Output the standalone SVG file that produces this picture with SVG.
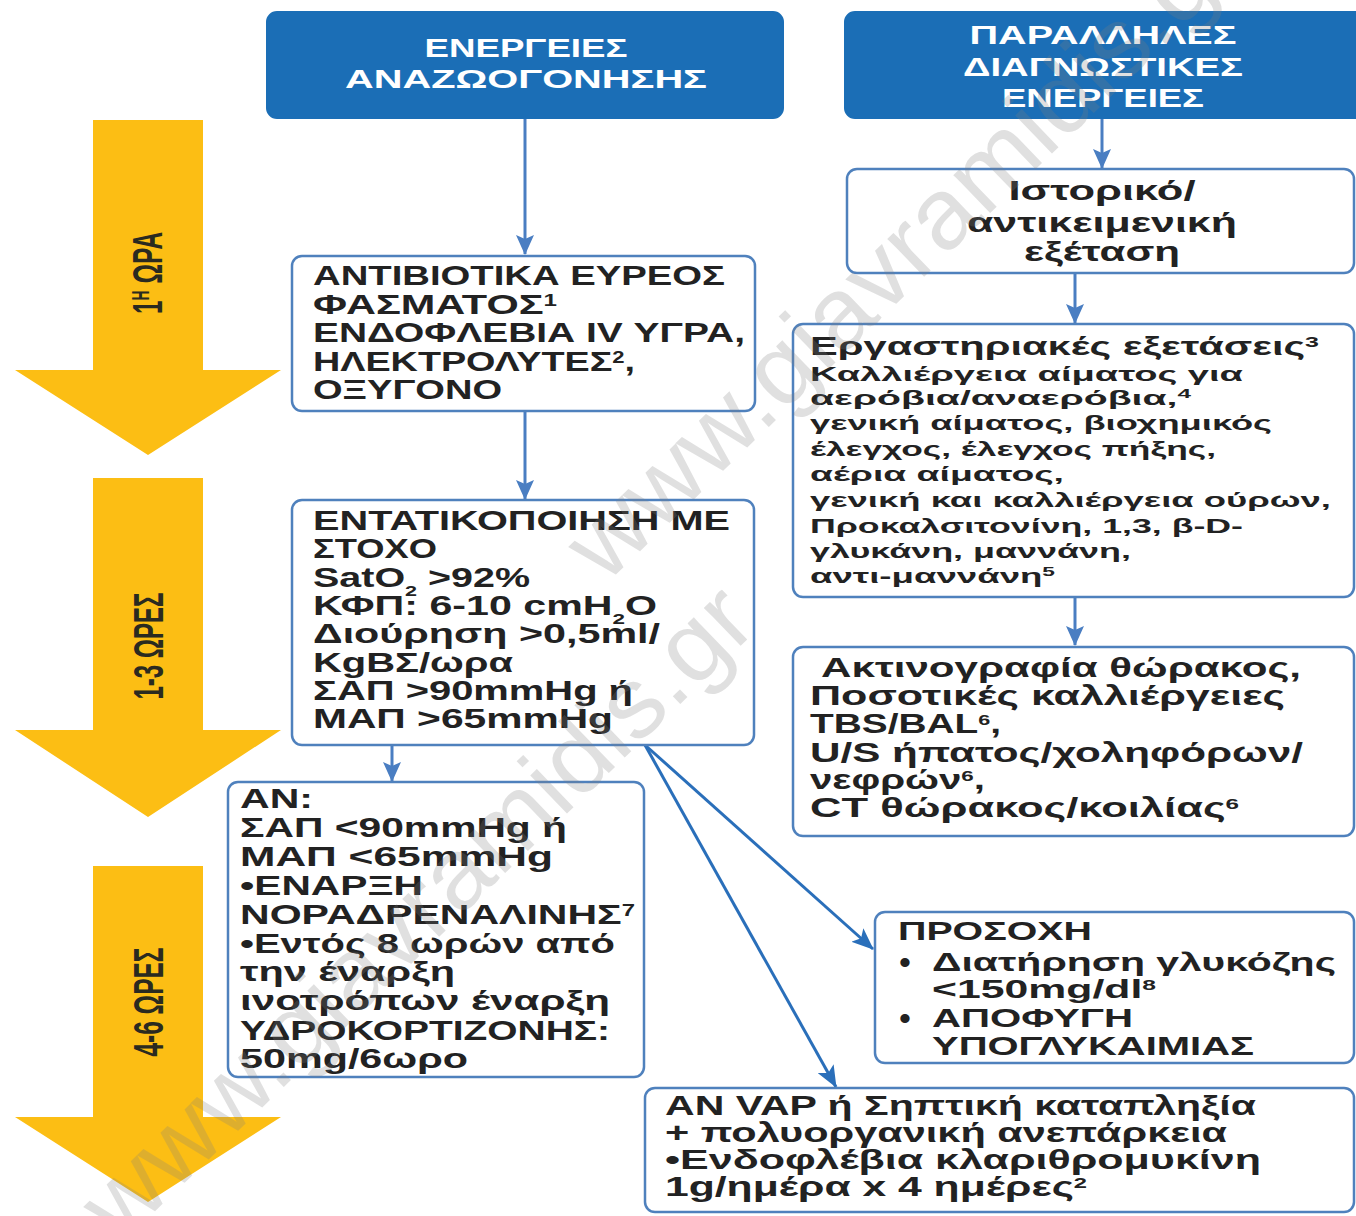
<svg xmlns="http://www.w3.org/2000/svg" width="1356" height="1216" viewBox="0 0 1356 1216">
<style>
.bg{fill:#fff}
.yarrow{fill:#FCBE14}
.ylab{font-family:"Liberation Sans",sans-serif;font-weight:bold;font-size:42px;fill:#2a2a20}
.hdr{fill:#1B6EB6;stroke:#1B6EB6;stroke-width:2}
.ht{font-family:"Liberation Sans",sans-serif;font-weight:bold;font-size:25px;fill:#fff}
.box{fill:#fff;stroke:#4F81BD;stroke-width:2.5}
.t{font-family:"Liberation Sans",sans-serif;font-weight:bold;fill:#222}
.f28{font-size:27.5px}
.f27{font-size:27px}
.f26{font-size:26px}
.f25{font-size:25px}
.f21{font-size:21px}
.bul{font-family:"Liberation Sans",sans-serif;font-size:34px;fill:#222}
.conn{stroke:#4A7EC2;stroke-width:3;fill:none}
.diag{stroke:#2A6FBA;stroke-width:3;fill:none}
.wm{font-family:"Liberation Sans",sans-serif;font-size:100px;fill:#808080;opacity:0.24}
</style>
<defs>
<marker id="ah" markerUnits="userSpaceOnUse" markerWidth="20" markerHeight="18" viewBox="0 0 20 18" refX="19" refY="9" orient="auto">
<path d="M0,0 L20,9 L0,18 L4,9 z" fill="#4A7EC2"/>
</marker>
<marker id="ah2" markerUnits="userSpaceOnUse" markerWidth="22" markerHeight="18" viewBox="0 0 22 18" refX="21" refY="9" orient="auto">
<path d="M0,0 L22,9 L0,18 L5,9 z" fill="#2A6FBA"/>
</marker>
</defs>
<rect class="bg" x="0" y="0" width="1356" height="1216"/>

<g id="timeline">
<g id="t1">
<polygon class="yarrow" points="93,120 203,120 203,370 281,370 148,455 15,370 93,370"/>
<text class="ylab" transform="translate(162,273) rotate(-90)" text-anchor="middle" textLength="82" lengthAdjust="spacingAndGlyphs">1<tspan font-size="24" baseline-shift="super">Η</tspan> ΩΡΑ</text>
</g>
<g id="t2">
<polygon class="yarrow" points="93,478 203,478 203,730 281,730 148,817 15,730 93,730"/>
<text class="ylab" transform="translate(163,646) rotate(-90)" text-anchor="middle" textLength="107" lengthAdjust="spacingAndGlyphs">1-3 ΩΡΕΣ</text>
</g>
<g id="t3">
<polygon class="yarrow" points="93,866 203,866 203,1117 281,1117 148,1202 15,1117 93,1117"/>
<text class="ylab" transform="translate(163,1002) rotate(-90)" text-anchor="middle" textLength="109" lengthAdjust="spacingAndGlyphs">4-6 ΩΡΕΣ</text>
</g>
</g>

<g id="connectors">
<line class="conn" x1="525" y1="118" x2="525" y2="254" marker-end="url(#ah)"/>
<line class="conn" x1="525" y1="411" x2="525" y2="499" marker-end="url(#ah)"/>
<line class="conn" x1="392" y1="745" x2="392" y2="781" marker-end="url(#ah)"/>
<line class="conn" x1="1102" y1="118" x2="1102" y2="168" marker-end="url(#ah)"/>
<line class="conn" x1="1075" y1="273" x2="1075" y2="323" marker-end="url(#ah)"/>
<line class="conn" x1="1075" y1="597" x2="1075" y2="645" marker-end="url(#ah)"/>
<line class="diag" x1="645" y1="745" x2="873" y2="949" marker-end="url(#ah2)"/>
<line class="diag" x1="645" y1="745" x2="836" y2="1087" marker-end="url(#ah2)"/>
</g>

<g id="hdr1">
<rect class="hdr" x="267" y="12" width="516" height="106" rx="10"/>
<text class="ht" x="526" y="57" text-anchor="middle" textLength="203" lengthAdjust="spacingAndGlyphs">ΕΝΕΡΓΕΙΕΣ</text>
<text class="ht" x="526" y="88" text-anchor="middle" textLength="362" lengthAdjust="spacingAndGlyphs">ΑΝΑΖΩΟΓΟΝΗΣΗΣ</text>
</g>

<g id="hdr2">
<rect class="hdr" x="845" y="12" width="520" height="106" rx="10"/>
<text class="ht" x="1103" y="44" text-anchor="middle" textLength="267" lengthAdjust="spacingAndGlyphs">ΠΑΡΑΛΛΗΛΕΣ</text>
<text class="ht" x="1103" y="76" text-anchor="middle" textLength="280" lengthAdjust="spacingAndGlyphs">ΔΙΑΓΝΩΣΤΙΚΕΣ</text>
<text class="ht" x="1103" y="107" text-anchor="middle" textLength="202" lengthAdjust="spacingAndGlyphs">ΕΝΕΡΓΕΙΕΣ</text>
</g>

<g id="antibiotics">
<rect class="box" x="292" y="256" width="463" height="155" rx="10"/>
<text class="t f28" x="313" y="285" textLength="412" lengthAdjust="spacingAndGlyphs">ΑΝΤΙΒΙΟΤΙΚΑ ΕΥΡΕΟΣ</text>
<text class="t f28" x="313" y="314" textLength="244" lengthAdjust="spacingAndGlyphs">ΦΑΣΜΑΤΟΣ<tspan font-size="16" baseline-shift="super">1</tspan></text>
<text class="t f28" x="313" y="342" textLength="432" lengthAdjust="spacingAndGlyphs">ΕΝΔΟΦΛΕΒΙΑ IV ΥΓΡΑ,</text>
<text class="t f28" x="313" y="371" textLength="322" lengthAdjust="spacingAndGlyphs">ΗΛΕΚΤΡΟΛΥΤΕΣ<tspan font-size="16" baseline-shift="super">2</tspan>,</text>
<text class="t f28" x="313" y="399" textLength="189" lengthAdjust="spacingAndGlyphs">ΟΞΥΓΟΝΟ</text>
</g>

<g id="intensify">
<rect class="box" x="292" y="500" width="462" height="245" rx="10"/>
<text class="t f28" x="313" y="530" textLength="417" lengthAdjust="spacingAndGlyphs">ΕΝΤΑΤΙΚΟΠΟΙΗΣΗ ΜΕ</text>
<text class="t f28" x="313" y="558" textLength="124" lengthAdjust="spacingAndGlyphs">ΣΤΟΧΟ</text>
<text class="t f28" x="313" y="587" textLength="217" lengthAdjust="spacingAndGlyphs">SatO<tspan font-size="15" baseline-shift="sub">2</tspan> &gt;92%</text>
<text class="t f28" x="313" y="615" textLength="344" lengthAdjust="spacingAndGlyphs">ΚΦΠ: 6-10 cmH<tspan font-size="15" baseline-shift="sub">2</tspan>O</text>
<text class="t f28" x="313" y="643" textLength="347" lengthAdjust="spacingAndGlyphs">Διούρηση &gt;0,5ml/</text>
<text class="t f28" x="313" y="672" textLength="200" lengthAdjust="spacingAndGlyphs">KgBΣ/ωρα</text>
<text class="t f28" x="313" y="700" textLength="320" lengthAdjust="spacingAndGlyphs">ΣΑΠ &gt;90mmHg ή</text>
<text class="t f28" x="313" y="728" textLength="300" lengthAdjust="spacingAndGlyphs">ΜΑΠ &gt;65mmHg</text>
</g>

<g id="if-hypotension">
<rect class="box" x="228" y="782" width="416" height="295" rx="10"/>
<text class="t f28" x="240" y="808" textLength="73" lengthAdjust="spacingAndGlyphs">ΑΝ:</text>
<text class="t f28" x="240" y="837" textLength="327" lengthAdjust="spacingAndGlyphs">ΣΑΠ &lt;90mmHg ή</text>
<text class="t f28" x="240" y="866" textLength="313" lengthAdjust="spacingAndGlyphs">ΜΑΠ &lt;65mmHg</text>
<text class="t f28" x="240" y="895" textLength="183" lengthAdjust="spacingAndGlyphs">•ΕΝΑΡΞΗ</text>
<text class="t f28" x="240" y="924" textLength="395" lengthAdjust="spacingAndGlyphs">ΝΟΡΑΔΡΕΝΑΛΙΝΗΣ<tspan font-size="16" baseline-shift="super">7</tspan></text>
<text class="t f28" x="240" y="953" textLength="375" lengthAdjust="spacingAndGlyphs">•Εντός 8 ωρών από</text>
<text class="t f28" x="240" y="981" textLength="215" lengthAdjust="spacingAndGlyphs">την έναρξη</text>
<text class="t f28" x="240" y="1010" textLength="370" lengthAdjust="spacingAndGlyphs">ινοτρόπων έναρξη</text>
<text class="t f28" x="240" y="1040" textLength="370" lengthAdjust="spacingAndGlyphs">ΥΔΡΟΚΟΡΤΙΖΟΝΗΣ:</text>
<text class="t f28" x="240" y="1068" textLength="228" lengthAdjust="spacingAndGlyphs">50mg/6ωρο</text>
</g>

<g id="history">
<rect class="box" x="847" y="169" width="507" height="104" rx="10"/>
<text class="t f28" x="1102" y="200" text-anchor="middle" textLength="187" lengthAdjust="spacingAndGlyphs">Ιστορικό/</text>
<text class="t f28" x="1102" y="232" text-anchor="middle" textLength="270" lengthAdjust="spacingAndGlyphs">αντικειμενική</text>
<text class="t f28" x="1102" y="261" text-anchor="middle" textLength="156" lengthAdjust="spacingAndGlyphs">εξέταση</text>
</g>

<g id="labs">
<rect class="box" x="793" y="324" width="561" height="273" rx="10"/>
<text class="t f25" x="810" y="355" textLength="509" lengthAdjust="spacingAndGlyphs">Εργαστηριακές εξετάσεις<tspan font-size="15" baseline-shift="super">3</tspan></text>
<text class="t f21" x="810" y="381" textLength="433" lengthAdjust="spacingAndGlyphs">Καλλιέργεια αίματος για</text>
<text class="t f21" x="810" y="405" textLength="381" lengthAdjust="spacingAndGlyphs">αερόβια/αναερόβια,<tspan font-size="13" baseline-shift="super">4</tspan></text>
<text class="t f21" x="810" y="430" textLength="462" lengthAdjust="spacingAndGlyphs">γενική αίματος, βιοχημικός</text>
<text class="t f21" x="810" y="456" textLength="406" lengthAdjust="spacingAndGlyphs">έλεγχος, έλεγχος πήξης,</text>
<text class="t f21" x="810" y="481" textLength="254" lengthAdjust="spacingAndGlyphs">αέρια αίματος,</text>
<text class="t f21" x="810" y="507" textLength="521" lengthAdjust="spacingAndGlyphs">γενική και καλλιέργεια ούρων,</text>
<text class="t f21" x="810" y="533" textLength="433" lengthAdjust="spacingAndGlyphs">Προκαλσιτονίνη, 1,3, β-D-</text>
<text class="t f21" x="810" y="558" textLength="321" lengthAdjust="spacingAndGlyphs">γλυκάνη, μαννάνη,</text>
<text class="t f21" x="810" y="583" textLength="245" lengthAdjust="spacingAndGlyphs">αντι-μαννάνη<tspan font-size="13" baseline-shift="super">5</tspan></text>
</g>

<g id="imaging">
<rect class="box" x="793" y="647" width="561" height="189" rx="10"/>
<text class="t f27" x="821" y="677" textLength="480" lengthAdjust="spacingAndGlyphs">Ακτινογραφία θώρακος,</text>
<text class="t f27" x="810" y="705" textLength="475" lengthAdjust="spacingAndGlyphs">Ποσοτικές καλλιέργειες</text>
<text class="t f27" x="810" y="733" textLength="191" lengthAdjust="spacingAndGlyphs">TBS/BAL<tspan font-size="15" baseline-shift="super">6</tspan>,</text>
<text class="t f27" x="810" y="762" textLength="493" lengthAdjust="spacingAndGlyphs">U/S ήπατος/χοληφόρων/</text>
<text class="t f27" x="810" y="789" textLength="175" lengthAdjust="spacingAndGlyphs">νεφρών<tspan font-size="15" baseline-shift="super">6</tspan>,</text>
<text class="t f27" x="810" y="817" textLength="429" lengthAdjust="spacingAndGlyphs">CT θώρακος/κοιλίας<tspan font-size="15" baseline-shift="super">6</tspan></text>
</g>

<g id="caution">
<rect class="box" x="875" y="912" width="479" height="151" rx="10"/>
<text class="t f26" x="898" y="940" textLength="194" lengthAdjust="spacingAndGlyphs">ΠΡΟΣΟΧΗ</text>
<text class="bul" x="899" y="974">•</text>
<text class="t f26" x="932" y="971" textLength="404" lengthAdjust="spacingAndGlyphs">Διατήρηση γλυκόζης</text>
<text class="t f26" x="932" y="998" textLength="224" lengthAdjust="spacingAndGlyphs">&lt;150mg/dl<tspan font-size="15" baseline-shift="super">8</tspan></text>
<text class="bul" x="899" y="1030">•</text>
<text class="t f26" x="932" y="1027" textLength="201" lengthAdjust="spacingAndGlyphs">ΑΠΟΦΥΓΗ</text>
<text class="t f26" x="932" y="1055" textLength="322" lengthAdjust="spacingAndGlyphs">ΥΠΟΓΛΥΚΑΙΜΙΑΣ</text>
</g>

<g id="vap">
<rect class="box" x="645" y="1088" width="709" height="124" rx="10"/>
<text class="t f27" x="665" y="1115" textLength="591" lengthAdjust="spacingAndGlyphs">ΑΝ VAP ή Σηπτική καταπληξία</text>
<text class="t f27" x="665" y="1142" textLength="562" lengthAdjust="spacingAndGlyphs">+ πολυοργανική ανεπάρκεια</text>
<text class="t f27" x="665" y="1169" textLength="596" lengthAdjust="spacingAndGlyphs">•Ενδοφλέβια κλαριθρομυκίνη</text>
<text class="t f27" x="665" y="1196" textLength="422" lengthAdjust="spacingAndGlyphs">1g/ημέρα x 4 ημέρες<tspan font-size="15" baseline-shift="super">2</tspan></text>
</g>

<g id="watermark">
<text class="wm" transform="translate(605,585) rotate(-44)" textLength="890" lengthAdjust="spacingAndGlyphs">www.giavramidis.gr</text>
<text class="wm" transform="translate(120,1245) rotate(-44)" textLength="890" lengthAdjust="spacingAndGlyphs">www.giavramidis.gr</text>
</g>
</svg>
